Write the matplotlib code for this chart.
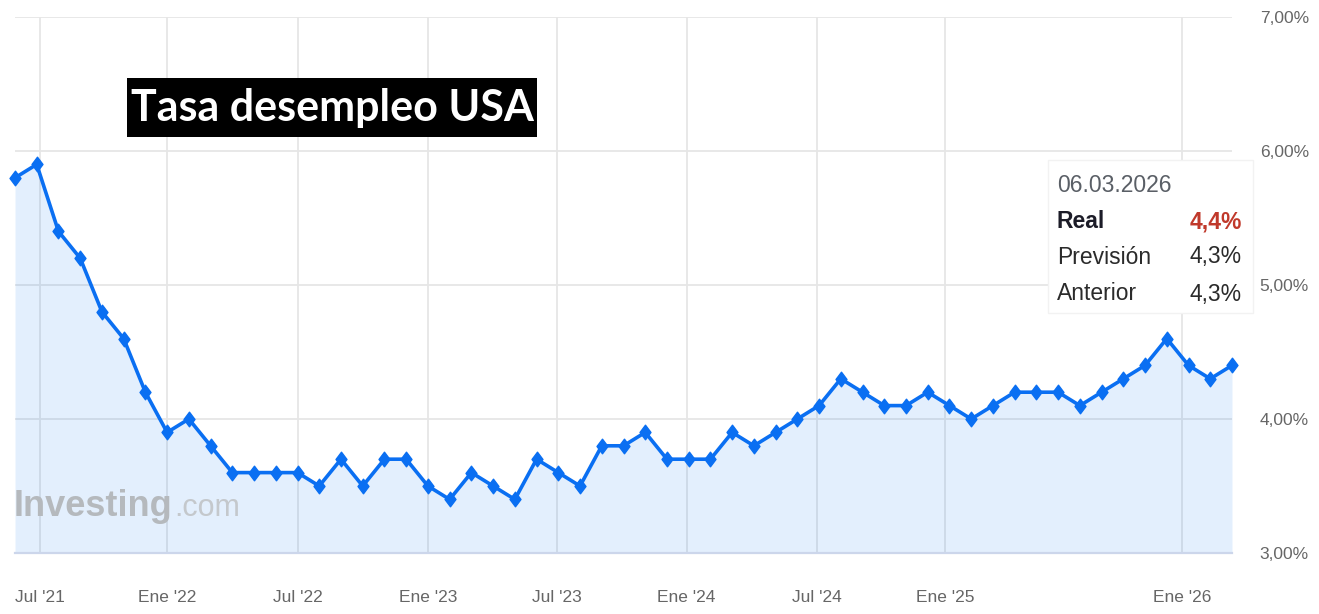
import numpy as np
import matplotlib
matplotlib.use('Agg')
import matplotlib.pyplot as plt
from matplotlib.path import Path
from matplotlib.patches import Rectangle

# ---------------- data ----------------
values = [5.8, 5.9, 5.4, 5.2, 4.8, 4.6, 4.2, 3.9, 4.0, 3.8,
          3.6, 3.6, 3.6, 3.6, 3.5, 3.7, 3.5, 3.7, 3.7, 3.5,
          3.4, 3.6, 3.5, 3.4, 3.7, 3.6, 3.5, 3.8, 3.8, 3.9,
          3.7, 3.7, 3.7, 3.9, 3.8, 3.9, 4.0, 4.1, 4.3, 4.2,
          4.1, 4.1, 4.2, 4.1, 4.0, 4.1, 4.2, 4.2, 4.2, 4.1,
          4.2, 4.3, 4.4, 4.6, 4.4, 4.3, 4.4]
x_tick_labels = ["Jul '21", "Ene '22", "Jul '22", "Ene '23", "Jul '23",
                 "Ene '24", "Jul '24", "Ene '25", "Ene '26"]
x_tick_pos = [1.15, 7.0, 13.0, 19.0, 24.95, 30.9, 36.9, 42.8, 53.7]
y_ticks = [3, 4, 5, 6, 7]
y_tick_labels = ["3,00%", "4,00%", "5,00%", "6,00%", "7,00%"]
title = "Tasa desempleo USA"
tt_date = "06.03.2026"
tt_rows = [("Real", "4,4%"), ("Previsión", "4,3%"), ("Anterior", "4,3%")]
watermark_main = "Investing"
watermark_tail = ".com"

# ---------------- figure ----------------
W, H = 1319, 614
plt.rcParams['font.family'] = ['Liberation Sans', 'DejaVu Sans']
fig = plt.figure(figsize=(W / 100, H / 100), dpi=100)
fig.patch.set_facecolor('white')


def fx(px):
    return px / W


def fy(py):
    return 1 - py / H


ax = fig.add_axes([fx(15), fy(553), fx(1232) - fx(15), fy(17) - fy(553)])
x = np.arange(len(values))
ax.set_xlim(0, len(values) - 1)
ax.set_ylim(3, 7)

ax.fill_between(x, values, 3, color='#0070f0', alpha=0.11, lw=0, zorder=2)
diamond = Path([(0, 1), (0.75, 0), (0, -1), (-0.75, 0), (0, 1)], closed=True)
ax.plot(x, values, color='#0a6ff2', lw=2.6, marker=diamond, ms=10.5,
        zorder=3, solid_joinstyle='round', clip_on=False)

ax.set_xticks(x_tick_pos, x_tick_labels)
ax.set_yticks(y_ticks, y_tick_labels)
ax.yaxis.tick_right()
ax.grid(True, color='#e6e6e6', lw=1.3)
ax.set_axisbelow(True)
for s in ['top', 'left', 'right']:
    ax.spines[s].set_visible(False)
ax.spines['bottom'].set_color('#ccd6eb')
ax.spines['bottom'].set_linewidth(1.6)
ax.spines['bottom'].set_zorder(4)
ax.tick_params(axis='x', length=0, pad=27, labelsize=12.5, labelcolor='#666666')
ax.tick_params(axis='y', length=0, pad=20, labelsize=12.5, labelcolor='#666666')

# watermark
wm = ax.text(fx(14), fy(516), watermark_main, transform=fig.transFigure,
             fontsize=26, fontweight='bold', color='#b5b9bd', va='baseline',
             ha='left', zorder=2.5)
fig.canvas.draw()
bb = wm.get_window_extent()
ax.text(bb.x1 / W + fx(1), fy(516), watermark_tail, transform=fig.transFigure,
        fontsize=22, color='#c4c8cc', va='baseline', ha='left', zorder=2.5)

# title box
fig.add_artist(Rectangle((fx(127), fy(137)), fx(537) - fx(127), fy(78) - fy(137),
                         transform=fig.transFigure, facecolor='black',
                         edgecolor='none', zorder=5))
fig.text(fx(332), fy(108), title, color='white', fontsize=31, fontweight='bold',
         family=['Lato', 'Open Sans', 'DejaVu Sans'], ha='center', va='center',
         zorder=6)

# tooltip
fig.add_artist(Rectangle((fx(1048), fy(313)), fx(1253) - fx(1048), fy(160) - fy(313),
                         transform=fig.transFigure, facecolor='white',
                         edgecolor='#f2f2f2', lw=1, zorder=5))
tt_font = ['Liberation Sans', 'DejaVu Sans']
fig.text(fx(1057), fy(185), tt_date, color='#5a5f66', fontsize=16.5,
         family=tt_font, ha='left', va='center', zorder=6)
row_y = [222, 257, 294]
for i, ((lab, val), yy) in enumerate(zip(tt_rows, row_y)):
    bold = (i == 0)
    fig.text(fx(1057), fy(yy), lab, color='#1c1c28' if bold else '#2b2b2b',
             fontsize=16.5, fontweight='bold' if bold else 'normal',
             family=tt_font, ha='left', va='center', zorder=6)
    fig.text(fx(1242), fy(yy), val, color='#c0392b' if bold else '#2b2b2b',
             fontsize=16.5, fontweight='bold' if bold else 'normal',
             family=tt_font, ha='right', va='center', zorder=6)

fig.savefig('out.png', dpi=100)
